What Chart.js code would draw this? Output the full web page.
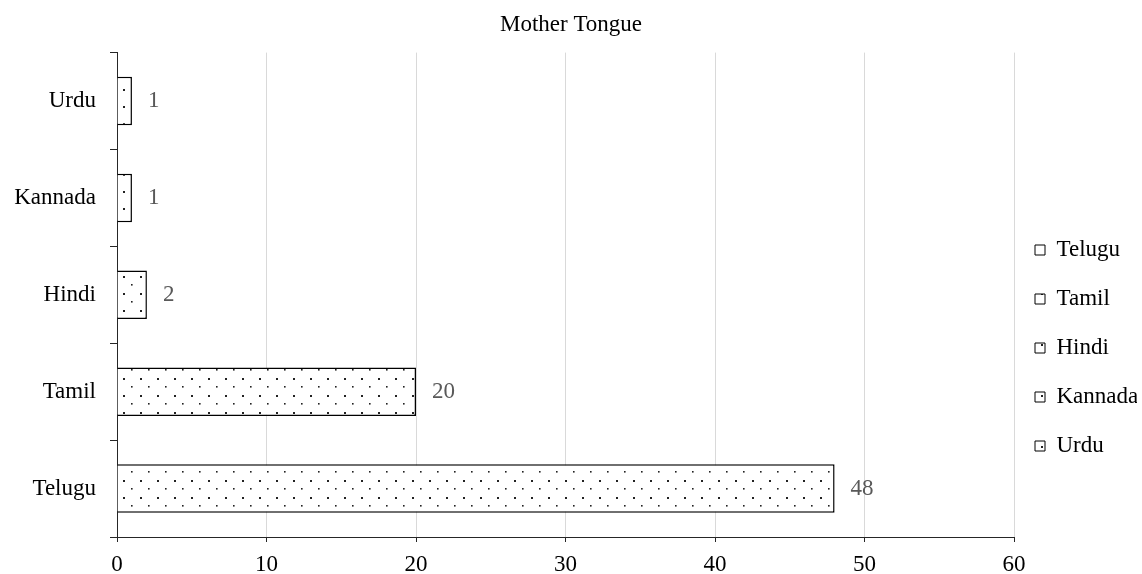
<!DOCTYPE html>
<html>
<head>
<meta charset="utf-8">
<script src="https://cdn.jsdelivr.net/npm/chart.js@4/dist/chart.umd.min.js"></script>
<style>
  body { margin: 0; background: #fff; }
  #wrap { width: 1142px; height: 574px; }
</style>
</head>
<body>
<div id="wrap"><canvas id="tongueChart" width="1142" height="574"></canvas></div>
<script>
// data (bottom to top on the chart, same order as the legend)
const languages = ["Telugu", "Tamil", "Hindi", "Kannada", "Urdu"];
const speakers = [48, 20, 2, 1, 1];
const xTicks = [0, 10, 20, 30, 40, 50, 60];

const FONT = "'Liberation Serif', 'Times New Roman', serif";

//#region PATTERN
function dotPattern() {
  const tile = document.createElement("canvas");
  tile.width = 17;
  tile.height = 17;
  const c = tile.getContext("2d");
  c.fillStyle = "#fff";
  c.fillRect(0, 0, 17, 17);
  c.fillStyle = "#222";
  c.fillRect(4, 4, 2, 2);
  c.fillRect(12, 12, 1.6, 1.6);
  return tile.getContext("2d").createPattern(tile, "repeat");
}
//#endregion

// value labels to the right of each bar
const valueLabels = {
  id: "valueLabels",
  afterDatasetsDraw(chart) {
    const ctx = chart.ctx;
    const meta = chart.getDatasetMeta(0);
    ctx.save();
    ctx.font = "23px " + FONT;
    ctx.fillStyle = "#595959";
    ctx.textAlign = "left";
    ctx.textBaseline = "middle";
    meta.data.forEach((bar, i) => {
      ctx.fillText(String(speakers[i]), bar.x + 16, bar.y);
    });
    ctx.restore();
  },
};

// nudge the legend block to where it sits in the original
const legendNudge = {
  id: "legendNudge",
  afterLayout(chart) {
    const lg = chart.legend;
    lg.left -= 5;
    lg.right -= 5;
    lg.top += 61;
    lg.bottom += 61;
  },
};

//#region RENDER
function tongueGraph() {
  const fill = dotPattern();
  const ctx = document.getElementById("tongueChart").getContext("2d");
  const tongueChart = new Chart(ctx, {
    type: "bar",
    data: {
      labels: languages,
      datasets: [
        {
          label: "Mother Tongue",
          data: speakers,
          backgroundColor: fill,
          borderColor: "#000",
          borderWidth: 1.5,
          categoryPercentage: 1,
          barPercentage: 0.5,
        },
      ],
    },
    options: {
      indexAxis: "y",
      responsive: false,
      animation: false,
      layout: { padding: { left: 0, right: 0, top: 0, bottom: 0 } },
      scales: {
        x: {
          min: 0,
          max: 60,
          afterBuildTicks: (scale) => {
            scale.ticks = xTicks.map((v) => ({ value: v }));
          },
          afterFit: (scale) => {
            scale.height = 37;
          },
          grid: {
            color: (c) => (c.tick && c.tick.value === 0 ? "rgba(0,0,0,0)" : "#d9d9d9"),
            lineWidth: 1,
            tickColor: "#262626",
            tickLength: 5,
          },
          border: { display: true, color: "#262626", width: 1 },
          ticks: {
            color: "#000",
            padding: 9,
            font: { family: FONT, size: 23 },
          },
        },
        y: {
          reverse: true,
          afterFit: (scale) => {
            scale.width = 117;
          },
          grid: {
            offset: true,
            drawOnChartArea: false,
            color: "#262626",
            tickLength: 7,
          },
          border: { display: true, color: "#262626", width: 1 },
          ticks: {
            color: "#000",
            padding: 14,
            font: { family: FONT, size: 23 },
          },
        },
      },
      plugins: {
        title: {
          display: true,
          text: "Mother Tongue",
          color: "#000",
          font: { family: FONT, size: 23, weight: "normal" },
          padding: { top: 11, bottom: 14 },
        },
        legend: {
          display: true,
          position: "right",
          maxWidth: 128,
          labels: {
            color: "#000",
            boxWidth: 10,
            boxHeight: 10,
            padding: 26,
            font: { family: FONT, size: 23 },
            generateLabels: () =>
              languages.map((name, i) => ({
                text: name,
                fillStyle: fill,
                strokeStyle: "#000",
                lineWidth: 1,
                hidden: false,
                index: i,
                datasetIndex: 0,
              })),
          },
        },
        tooltip: { enabled: false },
      },
    },
    plugins: [valueLabels, legendNudge],
  });
}
//#endregion

tongueGraph();
</script>
</body>
</html>
